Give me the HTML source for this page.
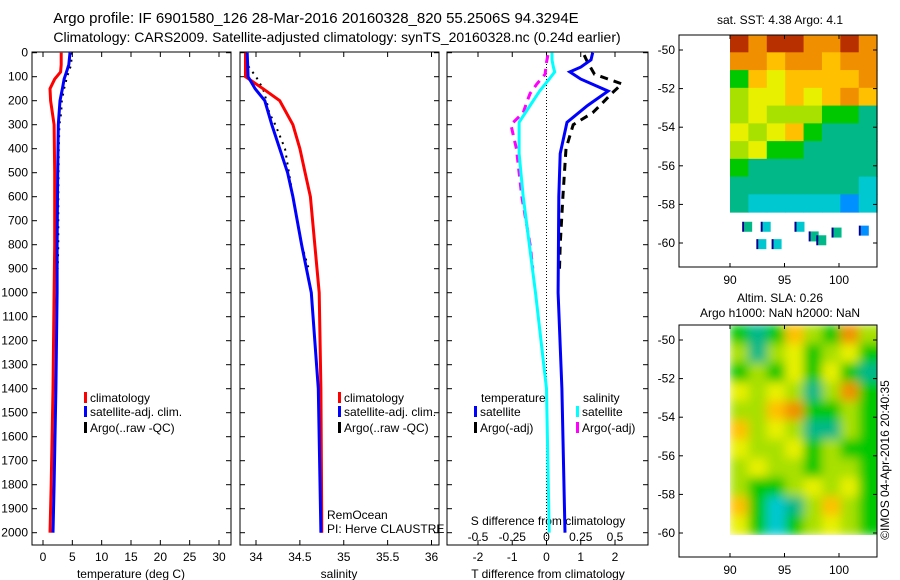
<!DOCTYPE html>
<html><head><meta charset="utf-8"><style>
body{margin:0;background:#fff}
svg{display:block;font-family:"Liberation Sans",sans-serif}
text{font-size:12px;fill:#000}
</style></head><body>
<svg id="s" width="900" height="580" viewBox="0 0 900 580">
<defs>
<filter id="blur" x="-5%" y="-5%" width="110%" height="110%"><feGaussianBlur stdDeviation="5"/></filter>
<clipPath id="slaClip"><rect x="730" y="325" width="147" height="210"/></clipPath>
</defs>
<text x="316" y="23" text-anchor="middle" style="font-size:15px">Argo profile: IF 6901580_126 28-Mar-2016 20160328_820 55.2506S 94.3294E</text>
<text x="337" y="42" text-anchor="middle" style="font-size:14px">Climatology: CARS2009. Satellite-adjusted climatology: synTS_20160328.nc (0.24d earlier)</text>
<g id="g"></g>
</svg>
<script>
// ---- data ----
const depthTicks=[0,100,200,300,400,500,600,700,800,900,1000,1100,1200,1300,1400,1500,1600,1700,1800,1900,2000];
const tempTicks=[0,5,10,15,20,25,30];
const salTicks=[34,34.5,35,35.5,36];
const salTickLabels=["34","34.5","35","35.5","36"];
const tdTicks=[-2,-1,0,1,2];
const sdTicks=[-0.5,-0.25,0,0.25,0.5];
const sdTickLabels=["-0.5","-0.25","0","0.25","0.5"];
const tempDepth=[0,50,80,110,150,200,300,500,800,1000,1400,1800,2000];
const tempClim=[3.1,3.1,3.0,2.0,1.2,1.3,1.9,2.0,2.0,1.9,1.7,1.4,1.2];
const tempSat=[4.6,4.4,4.0,3.6,3.3,2.9,2.6,2.5,2.4,2.4,2.2,1.9,1.7];
const argoDepth=[0,50,100,150,200,250,300,400,600,800,900];
const tempArgo=[4.9,4.8,4.1,3.6,3.2,3.1,2.8,2.7,2.6,2.6,2.5];
const salDepth=[0,100,150,200,300,400,500,600,800,1000,1400,2000];
const salClim=[33.88,33.88,34.08,34.27,34.42,34.5,34.56,34.62,34.67,34.72,34.74,34.75];
const salSat=[33.9,33.91,33.99,34.1,34.18,34.27,34.36,34.42,34.52,34.63,34.71,34.74];
const salArgo=[33.88,33.9,34.0,34.08,34.12,34.15,34.22,34.33,34.42,34.52,34.6];
const dDepth=[0,30,60,80,110,160,220,290,420,600,1000,1400,2000];
const tdSat=[1.35,1.3,1.0,0.68,1.0,1.8,1.2,0.6,0.4,0.36,0.34,0.45,0.54];
const sdSat=[0.04,0.04,0.05,0.06,0.02,-0.05,-0.12,-0.2,-0.2,-0.17,-0.08,0.0,0.02];
const dArgoDepth=[10,40,90,130,170,200,250,300,400,600,800,900];
const tdArgo=[1.1,1.2,1.4,2.2,1.9,1.7,1.35,0.78,0.57,0.48,0.4,0.38];
const sdArgo=[0.01,0.0,-0.01,-0.07,-0.12,-0.14,-0.17,-0.26,-0.22,-0.18,-0.12,-0.1];
const sstGrid=[
[9,8,9,9,8,8,9,8],[8,8,7,8,8,7,8,8],[4,7,6,7,7,7,7,8],[5,6,6,7,6,7,8,7],[5,6,5,5,5,4,4,3],
[6,5,6,7,4,3,3,3],[5,6,4,4,3,3,3,3],[4,3,3,3,3,3,3,3],[3,3,3,3,3,3,3,2],[3,2,2,2,2,2,1,2]];
const sstSpots=[[92.6,-59.8,2],[94.0,-59.8,2],[97.4,-59.4,3],[98.1,-59.6,3],[99.5,-59.2,3],[102.0,-59.1,1],[91.3,-58.9,3],[93.0,-58.9,2],[96.1,-58.9,2]];
const slaGrid=[
[4,3,4,7,5,4,8,5],[5,3,5,6,4,5,6,4],[4,5,4,6,4,6,4,3],[6,5,6,5,3,5,8,4],[5,5,7,8,4,4,5,4],
[7,5,6,5,3,3,5,4],[6,5,5,6,4,5,4,4],[5,6,5,5,4,5,5,4],[5,4,4,5,6,5,6,4],[7,4,2,3,5,7,5,4],[6,4,2,4,5,6,5,4]];
const latTicks=[-50,-52,-54,-56,-58,-60];
const lonTicks=[90,95,100];
const cmap=["#00008f","#0090ff","#00c8d0","#00b888","#00c800","#a8e000","#e8f000","#ffc000","#f09000","#b83000"];

const NS="http://www.w3.org/2000/svg";
const G=document.getElementById('g');
function mk(t,a,p){const e=document.createElementNS(NS,t);for(const k in a)e.setAttribute(k,a[k]);(p||G).appendChild(e);return e;}
const yD=d=>52.7+d*0.24;
const TOP=52,BOT=545;
function panel(x0,x1,name){
  const r=mk('rect',{x:x0,y:TOP,width:x1-x0,height:BOT-TOP,fill:'none',stroke:'#000','stroke-width':1});
  
  
  depthTicks.forEach(d=>{const y=yD(d);
    mk('line',{x1:x0,x2:x0+5,y1:y,y2:y,stroke:'#000'});mk('line',{x1:x1-5,x2:x1,y1:y,y2:y,stroke:'#000'});});
}
function xticks(xs,labels,sx,x0,ly){xs.forEach((v,i)=>{const x=sx(v);
  mk('line',{x1:x,x2:x,y1:BOT,y2:BOT-5,stroke:'#000'});mk('line',{x1:x,x2:x,y1:TOP,y2:TOP+5,stroke:'#000'});
  const t=mk('text',{x:x,y:ly,'text-anchor':'middle'});t.textContent=labels[i];
  
  });}
function line(xs,ds,sx,col,w,dash,name){
  const pts=xs.map((v,i)=>sx(v).toFixed(1)+','+yD(ds[i]).toFixed(1)).join(' ');
  const a={points:pts,fill:'none',stroke:col,'stroke-width':w};if(dash)a['stroke-dasharray']=dash;
  const p=mk('polyline',a);
  
  }
function txt(x,y,s,name,anchor){const t=mk('text',{x:x,y:y,'text-anchor':anchor||'start'});t.textContent=s;
  
  return t;}
function legend(x,y,col,s,name){mk('rect',{x:x,y:y-10,width:3,height:11,fill:col});txt(x+6,y,s,name);}

// panel 1
const sxT=t=>43+t*176/30;
panel(32,231,'temperature-panel');
depthTicks.forEach(d=>txt(28,yD(d)+4,String(d),'y-tick-label','end'));
xticks(tempTicks,tempTicks.map(String),sxT,32,561);
txt(131,578,'temperature (deg C)','x-axis-title-temperature','middle');
line(tempArgo,argoDepth,sxT,'#000',2,'2 5','temp-argo-line');
line(tempClim,tempDepth,sxT,'#f00',3,null,'temp-climatology-line');
line(tempSat,tempDepth,sxT,'#00f',3,null,'temp-satellite-line');
legend(84,402,'#f00','climatology','legend-climatology');
legend(84,416,'#00f','satellite-adj. clim.','legend-satellite');
legend(84,432,'#000','Argo(..raw -QC)','legend-argo');

// panel 2
const sxS=s=>256+(s-34)*87.75;
panel(240,439,'salinity-panel');
xticks(salTicks,salTickLabels,sxS,240,561);
txt(339,578,'salinity','x-axis-title-salinity','middle');
line(salArgo,argoDepth,sxS,'#000',2,'2 5','sal-argo-line');
line(salClim,salDepth,sxS,'#f00',3,null,'sal-climatology-line');
line(salSat,salDepth,sxS,'#00f',3,null,'sal-satellite-line');
legend(338,402,'#f00','climatology','legend2-climatology');
legend(338,416,'#00f','satellite-adj. clim.','legend2-satellite');
legend(338,432,'#000','Argo(..raw -QC)','legend2-argo');
txt(327,519,'RemOcean','remocean-label');
txt(327,533,'PI: Herve CLAUSTRE','pi-label');

// panel 3
const sxTd=t=>546.5+t*34.25, sxSd=s=>546.5+s*137;
panel(447,648,'difference-panel');
xticks(tdTicks,tdTicks.map(String),sxTd,447,561);
sdTicks.forEach((v,i)=>txt(sxSd(v),541,sdTickLabels[i],'s-tick-label','middle'));
txt(548,525,'S difference from climatology','s-axis-title','middle');
txt(548,578,'T difference from climatology','t-axis-title','middle');
mk('line',{x1:sxTd(0),x2:sxTd(0),y1:TOP,y2:BOT,stroke:'#000','stroke-dasharray':'1 2'});
line(tdArgo,dArgoDepth,sxTd,'#000',3,'8 6','tdiff-argo-line');
line(sdArgo,dArgoDepth,sxSd,'#f0f',3,'8 6','sdiff-argo-line');
line(tdSat,dDepth,sxTd,'#00f',3,null,'tdiff-satellite-line');
line(sdSat,dDepth,sxSd,'#0ff',3,null,'sdiff-satellite-line');
txt(481,402,'temperature','legend3-temperature-title');
legend(474,416,'#00f','satellite','legend3-t-satellite');
legend(474,432,'#000','Argo(-adj)','legend3-t-argo');
txt(583,402,'salinity','legend3-salinity-title');
legend(576,416,'#0ff','satellite','legend3-s-satellite');
legend(576,432,'#f0f','Argo(-adj)','legend3-s-argo');

// maps
function map(y0,y1,latTop,lat60,grid,latStart,latStep,spots,name,lblY,blur){
  const x0=679,x1=877;
  const sx=l=>730+(l-90)*10.9, sy=l=>latTop+(l+50)*(latTop-lat60)/10;
  const cols=grid[0].length,lonStep=(103.5-90)/cols;
  let cg=G;
  if(blur){const outer=mk('g',{'clip-path':'url(#slaClip)'});cg=mk('g',{filter:'url(#blur)'},outer);}
  grid.forEach((row,r)=>row.forEach((v,c)=>{
    const la=latStart-r*latStep;
    const e=mk('rect',{x:sx(90+c*lonStep)-(blur&&c===cols-1?0:0),y:sy(la),width:lonStep*10.9+(blur&&c===cols-1?12:0.5),height:latStep*(lat60-latTop)/10+0.5,fill:cmap[v]},cg);
    
    }));
  spots.forEach(s=>{const e=mk('rect',{x:sx(s[0]),y:sy(s[1]),width:8,height:10,fill:cmap[s[2]]});
    mk('rect',{x:sx(s[0])-2,y:sy(s[1]),width:2,height:10,fill:cmap[0]});
    
    });
  const b=mk('rect',{x:x0,y:y0,width:x1-x0,height:y1-y0,fill:'none',stroke:'#000'});
  
  
  latTicks.forEach(l=>{const y=sy(l);mk('line',{x1:x0,x2:x0+4,y1:y,y2:y,stroke:'#000'});mk('line',{x1:x1-4,x2:x1,y1:y,y2:y,stroke:'#000'});
    txt(675,y+4,String(l),'lat-tick-label','end');});
  lonTicks.forEach(l=>{const x=sx(l);mk('line',{x1:x,x2:x,y1:y1,y2:y1-4,stroke:'#000'});mk('line',{x1:x,x2:x,y1:y0,y2:y0+4,stroke:'#000'});
    txt(x,lblY,String(l),'lon-tick-label','middle');});
}
map(35,267,50,243,sstGrid,-49.2,0.92,sstSpots,'sst-map',284,false);
txt(780,24,'sat. SST: 4.38 Argo: 4.1','sst-map-title','middle');
map(325,557,340,533,slaGrid,-49.2,0.99,[],'sla-map',574,true);
txt(780,302,'Altim. SLA: 0.26','sla-map-title','middle');
txt(780,317,'Argo h1000: NaN h2000: NaN','sla-map-subtitle','middle');
const c=txt(0,0,'©IMOS 04-Apr-2016 20:40:35','imos-stamp','middle');
c.setAttribute('transform','translate(889,460) rotate(-90)');
</script>
</body></html>
